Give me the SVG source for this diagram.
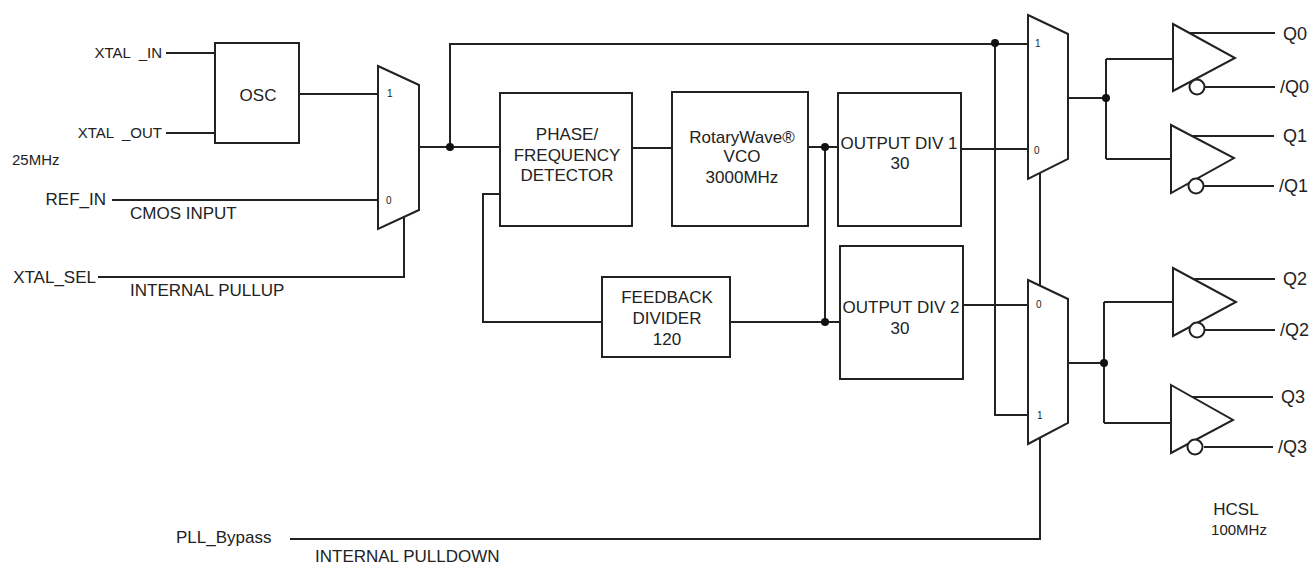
<svg xmlns="http://www.w3.org/2000/svg" width="1315" height="564" viewBox="0 0 1315 564">
<style>
text{font-family:"Liberation Sans",Arial,sans-serif;fill:#222;}
.t{font-size:17px;}
.s{font-size:15px;}
.q{font-size:18px;}
.m{font-size:10px;}
.c{text-anchor:middle;}
.r{text-anchor:end;}
.b{fill:#fff;stroke:#222;stroke-width:2;}
.w{fill:none;stroke:#222;stroke-width:2;}
.d{fill:#111;}
</style>
<rect width="1315" height="564" fill="#fff"/>
<g id="connectors" class="w">
<path d="M166 53H215M166 133H215M112 200H378M299 94H378M98 277H404V217"/>
<path d="M419 147H500M450 147V44H1028"/>
<path d="M632 148H672M808 147H838M825 147V322M730 322H840M602 322H483V194H500"/>
<path d="M961 149H1028M963 305H1028M995 43V415H1028"/>
<path d="M1040 173V286M1040 438V539H290"/>
<path d="M1068 98H1106M1106 59V159M1106 59H1173M1106 159H1171"/>
<path d="M1068 363H1104M1104 302V423M1104 302H1173M1104 423H1171"/>
<path d="M1190 33H1275M1205 87H1275M1190 136H1274M1204 186H1274M1192 279H1275M1205 330H1275M1190 397H1273M1204 447H1273"/>
</g>
<g id="junctions" class="d">
<circle cx="450" cy="147" r="4"/>
<circle cx="825" cy="147" r="4"/>
<circle cx="825" cy="322" r="4"/>
<circle cx="995" cy="43" r="4"/>
<circle cx="1106" cy="98" r="4"/>
<circle cx="1104" cy="363" r="4"/>
</g>
<g id="osc"><rect class="b" x="215" y="43" width="84" height="100"/><text class="t c" x="258" y="101">OSC</text></g>
<g id="mux1"><polygon class="b" points="378,66 419,85 419,210 378,229"/><text class="m" x="387" y="97">1</text><text class="m" x="386" y="204">0</text></g>
<g id="pfd"><rect class="b" x="500" y="93" width="132" height="133"/><text class="t c" x="567" y="140">PHASE/</text><text class="t c" x="567" y="161">FREQUENCY</text><text class="t c" x="567" y="181">DETECTOR</text></g>
<g id="vco"><rect class="b" x="672" y="92" width="136" height="134"/><text class="t c" x="742" y="143">RotaryWave®</text><text class="t c" x="742" y="162">VCO</text><text class="t c" x="742" y="183">3000MHz</text></g>
<g id="fbdiv"><rect class="b" x="602" y="277" width="128" height="80"/><text class="t c" x="667" y="303">FEEDBACK</text><text class="t c" x="667" y="324">DIVIDER</text><text class="t c" x="667" y="345">120</text></g>
<g id="odiv1"><rect class="b" x="838" y="93" width="123" height="133"/><text class="t c" x="899" y="149">OUTPUT DIV 1</text><text class="t c" x="900" y="169">30</text></g>
<g id="odiv2"><rect class="b" x="840" y="246" width="123" height="133"/><text class="t c" x="901" y="313">OUTPUT DIV 2</text><text class="t c" x="900" y="334">30</text></g>
<g id="mux2"><polygon class="b" points="1028,15 1068,34 1068,159 1028,179"/><text class="m" x="1035" y="47">1</text><text class="m" x="1034" y="154">0</text></g>
<g id="mux3"><polygon class="b" points="1028,280 1068,299 1068,423 1028,444"/><text class="m" x="1036" y="308">0</text><text class="m" x="1037" y="419">1</text></g>
<g id="buf0"><polygon class="b" points="1173,24 1235,58 1173,91"/><circle class="b" cx="1197" cy="87" r="7.5"/></g>
<g id="buf1"><polygon class="b" points="1171,125 1234,158 1171,193"/><circle class="b" cx="1196" cy="186" r="7.5"/></g>
<g id="buf2"><polygon class="b" points="1173,268 1236,302 1173,336"/><circle class="b" cx="1197" cy="330" r="7.5"/></g>
<g id="buf3"><polygon class="b" points="1171,385 1233,420 1171,453"/><circle class="b" cx="1195" cy="447" r="7.5"/></g>
<g id="labels">
<text class="s r" x="162" y="58" style="white-space:pre">XTAL  _IN</text>
<text class="s r" x="162" y="138" style="white-space:pre">XTAL  _OUT</text>
<text class="s" x="12" y="165">25MHz</text>
<text class="t r" x="106" y="205">REF_IN</text>
<text class="t" x="130" y="219">CMOS INPUT</text>
<text class="t r" x="96" y="283">XTAL_SEL</text>
<text class="t" x="130" y="296">INTERNAL PULLUP</text>
<text class="t" x="176" y="543">PLL_Bypass</text>
<text class="t" x="315" y="562">INTERNAL PULLDOWN</text>
<text class="q" x="1283" y="40">Q0</text>
<text class="q" x="1280" y="93">/Q0</text>
<text class="q" x="1283" y="142">Q1</text>
<text class="q" x="1279" y="192">/Q1</text>
<text class="q" x="1283" y="285">Q2</text>
<text class="q" x="1280" y="336">/Q2</text>
<text class="q" x="1281" y="403">Q3</text>
<text class="q" x="1278" y="453">/Q3</text>
<text class="t c" x="1236" y="515">HCSL</text>
<text class="s c" x="1239" y="535">100MHz</text>
</g>
</svg>
